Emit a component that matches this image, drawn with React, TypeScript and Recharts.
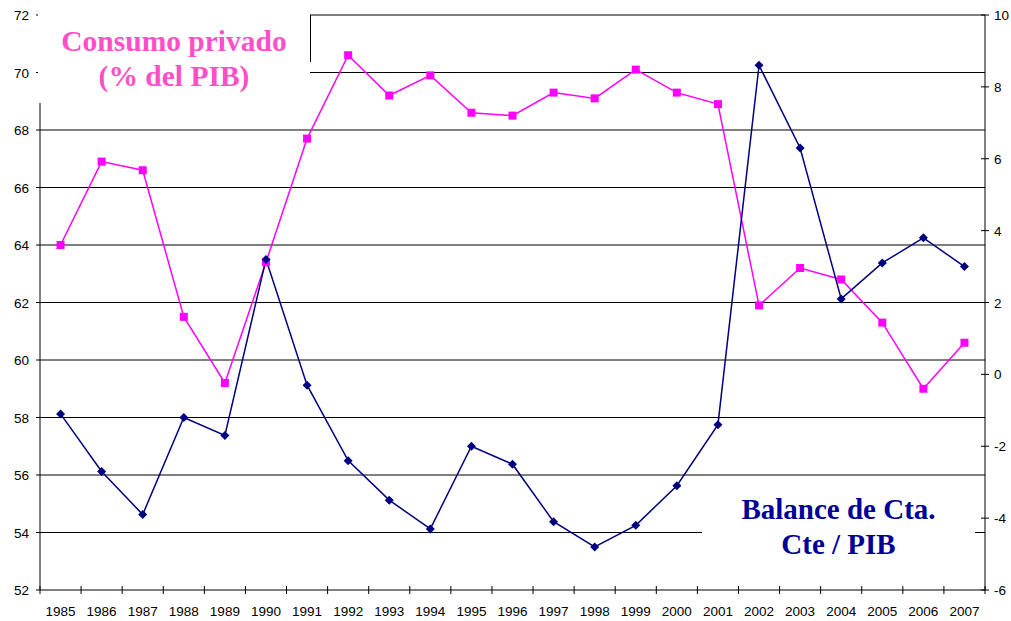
import { LineChart, Line, XAxis, YAxis, ReferenceLine } from "recharts";

const years = [
  1985, 1986, 1987, 1988, 1989, 1990, 1991, 1992, 1993, 1994, 1995, 1996,
  1997, 1998, 1999, 2000, 2001, 2002, 2003, 2004, 2005, 2006, 2007,
];
const consumo = [
  64.0, 66.9, 66.6, 61.5, 59.2, 63.4, 67.7, 70.6, 69.2, 69.9, 68.6, 68.5,
  69.3, 69.1, 70.1, 69.3, 68.9, 61.9, 63.2, 62.8, 61.3, 59.0, 60.6,
];
const balance = [
  -1.1, -2.7, -3.9, -1.2, -1.7, 3.2, -0.3, -2.4, -3.5, -4.3, -2.0, -2.5,
  -4.1, -4.8, -4.2, -3.1, -1.4, 8.6, 6.3, 2.1, 3.1, 3.8, 3.0,
];
const leftTicks = [52, 54, 56, 58, 60, 62, 64, 66, 68, 70, 72];
const rightTicks = [-6, -4, -2, 0, 2, 4, 6, 8, 10];
// tick marks sit between the years, labels on the years
const yearEdges = [1984.5, ...years.map((y) => y + 0.5)];
const xTicks = [...yearEdges, ...years].sort((a, b) => a - b);

const data = years.map((year, i) => ({
  year,
  consumo: consumo[i],
  balance: balance[i],
}));

const font = "'Liberation Sans', Arial, sans-serif";
const serif = "'Liberation Serif', 'Times New Roman', serif";

const SquareDot = (props: any) => {
  const { cx, cy } = props;
  if (cx == null || cy == null) return null;
  return <rect x={cx - 4} y={cy - 4} width={8} height={8} fill="#ff00ff" />;
};

const DiamondDot = (props: any) => {
  const { cx, cy } = props;
  if (cx == null || cy == null) return null;
  return (
    <polygon
      points={`${cx},${cy - 4.5} ${cx + 4.5},${cy} ${cx},${cy + 4.5} ${cx - 4.5},${cy}`}
      fill="#000080"
    />
  );
};

const RightTick = (props: any) => {
  const { x, y, payload } = props;
  return (
    <g>
      <line x1={x - 4} x2={x + 4} y1={y} y2={y} stroke="#000" />
      <text x={x + 9} y={y} dy={5} fontSize={13.5} fontFamily={font} fill="#000">
        {payload.value}
      </text>
    </g>
  );
};

const LeftTick = (props: any) => {
  const { x, y, payload } = props;
  return (
    <g>
      <line x1={x - 4} x2={x} y1={y} y2={y} stroke="#000" />
      <text
        x={x - 11}
        y={y}
        dy={5}
        textAnchor="end"
        fontSize={13.5}
        fontFamily={font}
        fill="#000"
      >
        {payload.value}
      </text>
    </g>
  );
};

const XTick = (props: any) => {
  const { x, y, payload } = props;
  if (!Number.isInteger(payload.value)) {
    return <line x1={x} x2={x} y1={y - 4} y2={y + 4} stroke="#000" />;
  }
  return (
    <text
      x={x}
      y={y}
      dy={26}
      textAnchor="middle"
      fontSize={13.5}
      fontFamily={font}
      fill="#000"
    >
      {payload.value}
    </text>
  );
};

export default function App() {
  return (
    <div
      style={{
        position: "absolute",
        left: 0,
        top: 0,
        width: 1011,
        height: 621,
        background: "#fff",
      }}
    >
      <LineChart
        width={1011}
        height={621}
        data={data}
        margin={{ top: 15, right: 0, bottom: 0, left: 0 }}
      >
        <XAxis
          dataKey="year"
          type="number"
          domain={[1984.5, 2007.5]}
          ticks={xTicks}
          interval={0}
          tickSize={0}
          tickMargin={0}
          tickLine={false}
          tick={<XTick />}
          axisLine={{ stroke: "#000" }}
          height={31}
        />
        <YAxis
          yAxisId="left"
          domain={[52, 72]}
          ticks={leftTicks}
          interval={0}
          width={40}
          tickSize={0}
          tickMargin={0}
          tickLine={false}
          tick={<LeftTick />}
          axisLine={{ stroke: "#000" }}
        />
        <YAxis
          yAxisId="right"
          orientation="right"
          domain={[-6, 10]}
          ticks={rightTicks}
          interval={0}
          width={26}
          tickSize={0}
          tickMargin={0}
          tickLine={false}
          tick={<RightTick />}
          axisLine={{ stroke: "#000" }}
        />
        {leftTicks.slice(1).map((v) => (
          <ReferenceLine key={v} y={v} yAxisId="left" stroke="#000" strokeWidth={1} />
        ))}
        <Line
          yAxisId="left"
          dataKey="consumo"
          stroke="#ff00ff"
          strokeWidth={1.5}
          dot={<SquareDot />}
          activeDot={false}
          isAnimationActive={false}
        />
        <Line
          yAxisId="right"
          dataKey="balance"
          stroke="#000080"
          strokeWidth={1.5}
          dot={<DiamondDot />}
          activeDot={false}
          isAnimationActive={false}
        />
      </LineChart>

      <div
        style={{
          position: "absolute",
          left: 38,
          top: 0,
          width: 272,
          height: 103,
          background: "#fff",
          color: "#ff4fc8",
          fontFamily: serif,
          fontWeight: "bold",
          fontSize: 29.5,
          lineHeight: "35px",
          textAlign: "center",
          paddingTop: 24,
          boxSizing: "border-box",
        }}
      >
        Consumo privado
        <br />
        (% del PIB)
      </div>
      <div
        style={{
          position: "absolute",
          left: 310,
          top: 15,
          width: 1,
          height: 47,
          background: "#000",
        }}
      />
      <div
        style={{
          position: "absolute",
          left: 702,
          top: 484,
          width: 273,
          height: 90,
          background: "#fff",
          color: "#000099",
          fontFamily: serif,
          fontWeight: "bold",
          fontSize: 29,
          lineHeight: "35px",
          textAlign: "center",
          paddingTop: 8,
          boxSizing: "border-box",
        }}
      >
        Balance de Cta.
        <br />
        Cte / PIB
      </div>
    </div>
  );
}
